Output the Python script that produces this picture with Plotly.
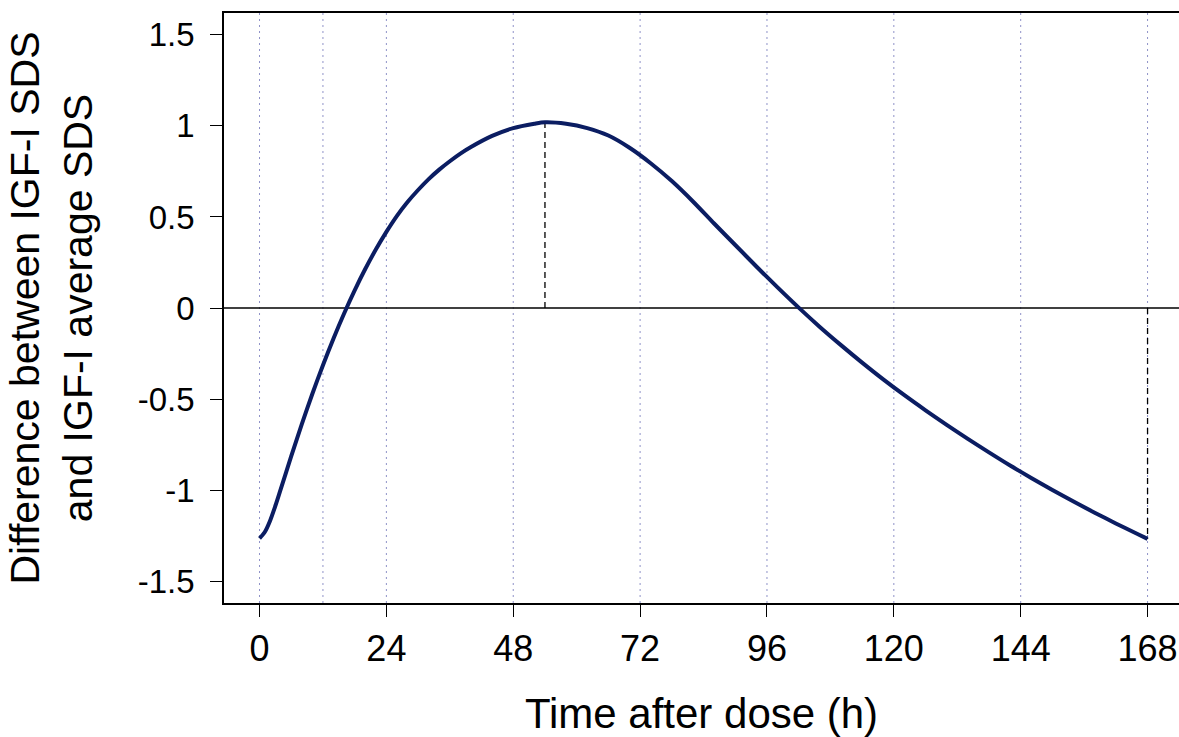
import plotly.graph_objects as go

# ---- data ----
hours = [0, 1, 2, 3, 4, 6, 8, 10, 12, 14, 16, 18, 20, 22, 24, 26, 28, 30, 32, 34,
         36, 38, 40, 44, 48, 52, 54, 58, 62, 66, 70, 74, 78, 82, 86, 90, 94, 98,
         102, 106, 110, 114, 118, 122, 126, 130, 134, 138, 142, 146, 150, 154,
         158, 162, 166, 168]
sds_diff = [-1.265, -1.230, -1.168, -1.086, -0.996, -0.814, -0.638, -0.471, -0.314,
            -0.167, -0.030, 0.097, 0.214, 0.321, 0.418, 0.506, 0.582, 0.648, 0.708,
            0.760, 0.806, 0.848, 0.884, 0.945, 0.988, 1.012, 1.020, 1.012, 0.988,
            0.947, 0.880, 0.795, 0.697, 0.585, 0.464, 0.346, 0.228, 0.113,
            0.002, -0.104, -0.204, -0.300, -0.392, -0.479, -0.562, -0.642, -0.719,
            -0.793, -0.865, -0.933, -0.999, -1.063, -1.124, -1.183, -1.240, -1.268]

x_ticks = [0, 24, 48, 72, 96, 120, 144, 168]
x_ticklabels = ["0", "24", "48", "72", "96", "120", "144", "168"]
y_ticks = [-1.5, -1, -0.5, 0, 0.5, 1, 1.5]
y_ticklabels = ["-1.5", "-1", "-0.5", "0", "0.5", "1", "1.5"]
grid_hours = [0, 12, 24, 48, 72, 96, 120, 144, 168]

peak_hour = 54
peak_value = 1.020
end_hour = 168
end_value = -1.268

FONT = "Liberation Sans, Arial, sans-serif"
CURVE = "#0b1d62"

fig = go.Figure()

shapes = []
for h in grid_hours:
    shapes.append(dict(type="line", xref="x", yref="paper", x0=h, x1=h, y0=0, y1=1,
                       line=dict(color="#8f92c8", width=1, dash="2px,4px"), layer="below"))
# zero line
shapes.append(dict(type="line", xref="paper", yref="y", x0=0, x1=1, y0=0, y1=0,
                   line=dict(color="black", width=1.3), layer="below"))
# dashed markers
shapes.append(dict(type="line", xref="x", yref="y", x0=peak_hour, x1=peak_hour, y0=0, y1=peak_value,
                   line=dict(color="black", width=1.3, dash="6px,4px"), layer="below"))
shapes.append(dict(type="line", xref="x", yref="y", x0=end_hour, x1=end_hour, y0=0, y1=end_value,
                   line=dict(color="black", width=1.3, dash="6px,4px"), layer="below"))

fig.add_trace(go.Scatter(x=hours, y=sds_diff, mode="lines",
                         line=dict(color=CURVE, width=4, shape="spline", smoothing=0.8),
                         showlegend=False, hoverinfo="x+y"))

fig.update_layout(
    width=1179, height=737,
    margin=dict(l=224, r=0, t=13, b=134),
    paper_bgcolor="white", plot_bgcolor="white",
    font=dict(family=FONT, color="black"),
    shapes=shapes,
    showlegend=False,
)

fig.update_xaxes(
    range=[-6.72, 173.95],
    tickmode="array", tickvals=x_ticks, ticktext=x_ticklabels,
    ticks="outside", ticklen=12, tickwidth=1.3, tickcolor="black",
    tickfont=dict(size=36, family=FONT),
    showgrid=False, zeroline=False,
    showline=True, linecolor="black", linewidth=1.5, mirror=True,
    ticklabelstandoff=1,
    title=dict(text="Time after dose (h)", font=dict(size=42, family=FONT), standoff=32),
)
fig.update_yaxes(
    range=[-1.62, 1.62],
    tickmode="array", tickvals=y_ticks, ticktext=y_ticklabels,
    ticks="outside", ticklen=12, tickwidth=1.3, tickcolor="black",
    tickfont=dict(size=33, family=FONT),
    showgrid=False, zeroline=False,
    showline=True, linecolor="black", linewidth=1.5, mirror=False,
    ticklabelstandoff=9,
    title=dict(text="Difference between IGF-I SDS<br>and IGF-I average SDS",
               font=dict(size=41, family=FONT), standoff=32),
)

fig.write_html("out.html")
